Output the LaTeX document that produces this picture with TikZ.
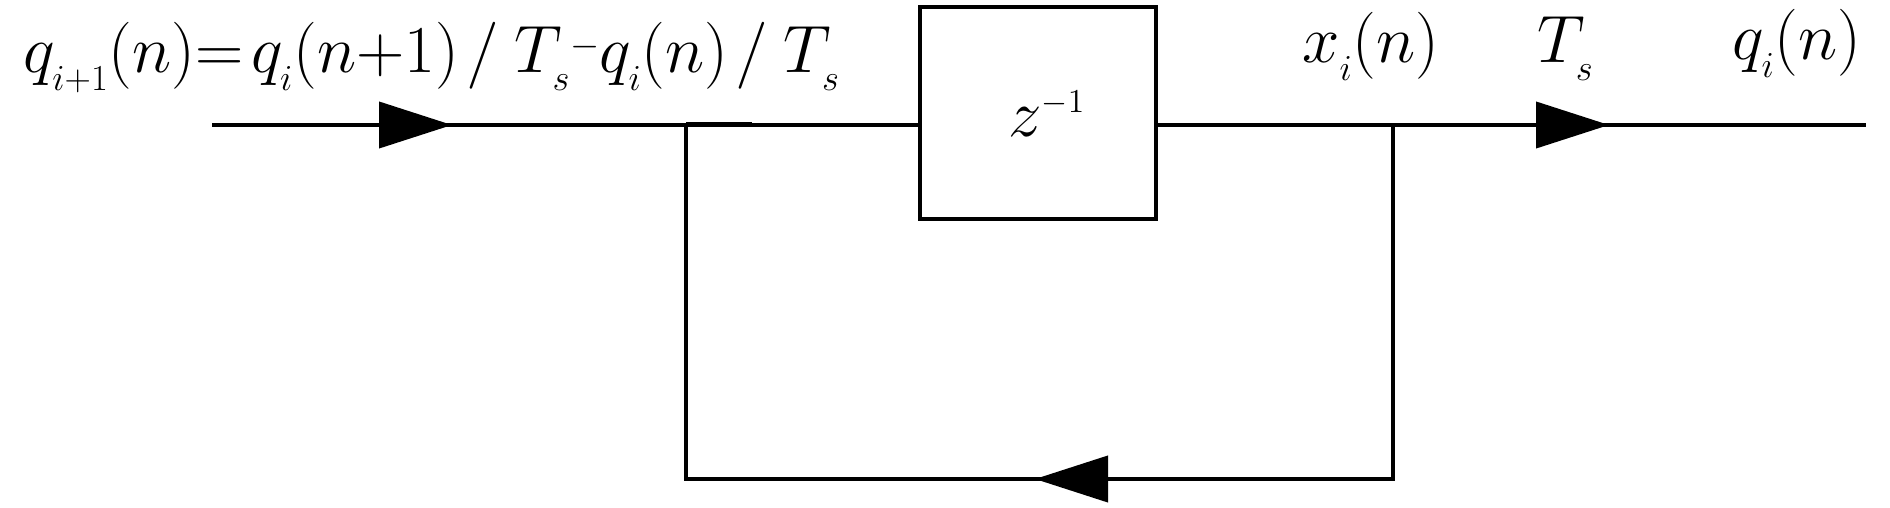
\RequirePackage{fix-cm}
\documentclass[tikz,border=0pt]{standalone}
\usepackage{graphicx}
\usetikzlibrary{arrows.meta,decorations.markings}
\newcommand\lo[1]{_{\raisebox{-3.5pt}{\scalebox{0.78}{$\scriptstyle #1$}}}}
\newcommand\smin{\mathord{\raisebox{8pt}{\scalebox{0.8}{$\scriptstyle -$}}}}
\newcommand\sla{\mkern2mu/\mkern4mu}
\tikzset{
  wire/.style={line width=2pt, line cap=butt, line join=miter},
  lbl/.style={anchor=base west, inner sep=0pt, font=\fontsize{33.5}{40}\selectfont},
  blk/.style={draw, line width=2pt, minimum width=118pt, minimum height=106pt, inner sep=0pt,
              font=\fontsize{33.5}{40}\selectfont},
  headat/.style={postaction={decorate}, decoration={markings,
     mark=at position #1 with {\arrow[fill=black!93]{Triangle[length=36.5pt,width=23pt]}}}}
}
\begin{document}
\begin{tikzpicture}[x=0.5pt,y=-0.5pt]
\useasboundingbox (0,0) rectangle (1890,508);
% points
\coordinate (in) at (212,125);
\coordinate (j1) at (686,125);
\coordinate (j1e) at (752,125);
\coordinate (j2) at (1393,125);
\coordinate (out) at (1866,125);
\coordinate (b1) at (686,479);
\coordinate (b2) at (1393,479);
% block
\node[blk] (d) at (1038,113) {};
\node[lbl] (zt) at (1008,137) {$z^{\scriptscriptstyle -1}$};
% connectors
\draw[wire, headat=120pt] (in) -- (j1);
\draw[wire] (j1) -- (d.west |- j1);
\draw[wire, line width=2.5pt] (j1) -- (j1e);
\draw[wire] (d.east |- j2) -- (j2);
\draw[wire, headat=108pt] (j2) -- (out);
\draw[wire, headat=356pt] (j2) -- (b2) -- (b1) -- (j1);
% labels
\node[lbl] (eq) at (23,73) {$q\lo{i+1}(n){=}\mkern2mu q\lo{i}(n{+}1)\sla T\lo{s}\smin q\lo{i}(n)\sla T\lo{s}$};
\node[lbl] (xl) at (1302,63) {$x\lo{i}(n)$};
\node[lbl] (tl) at (1537,63) {$T\lo{s}$};
\node[lbl] (ql) at (1732,60) {$q\lo{i}(n)$};
\end{tikzpicture}
\end{document}
